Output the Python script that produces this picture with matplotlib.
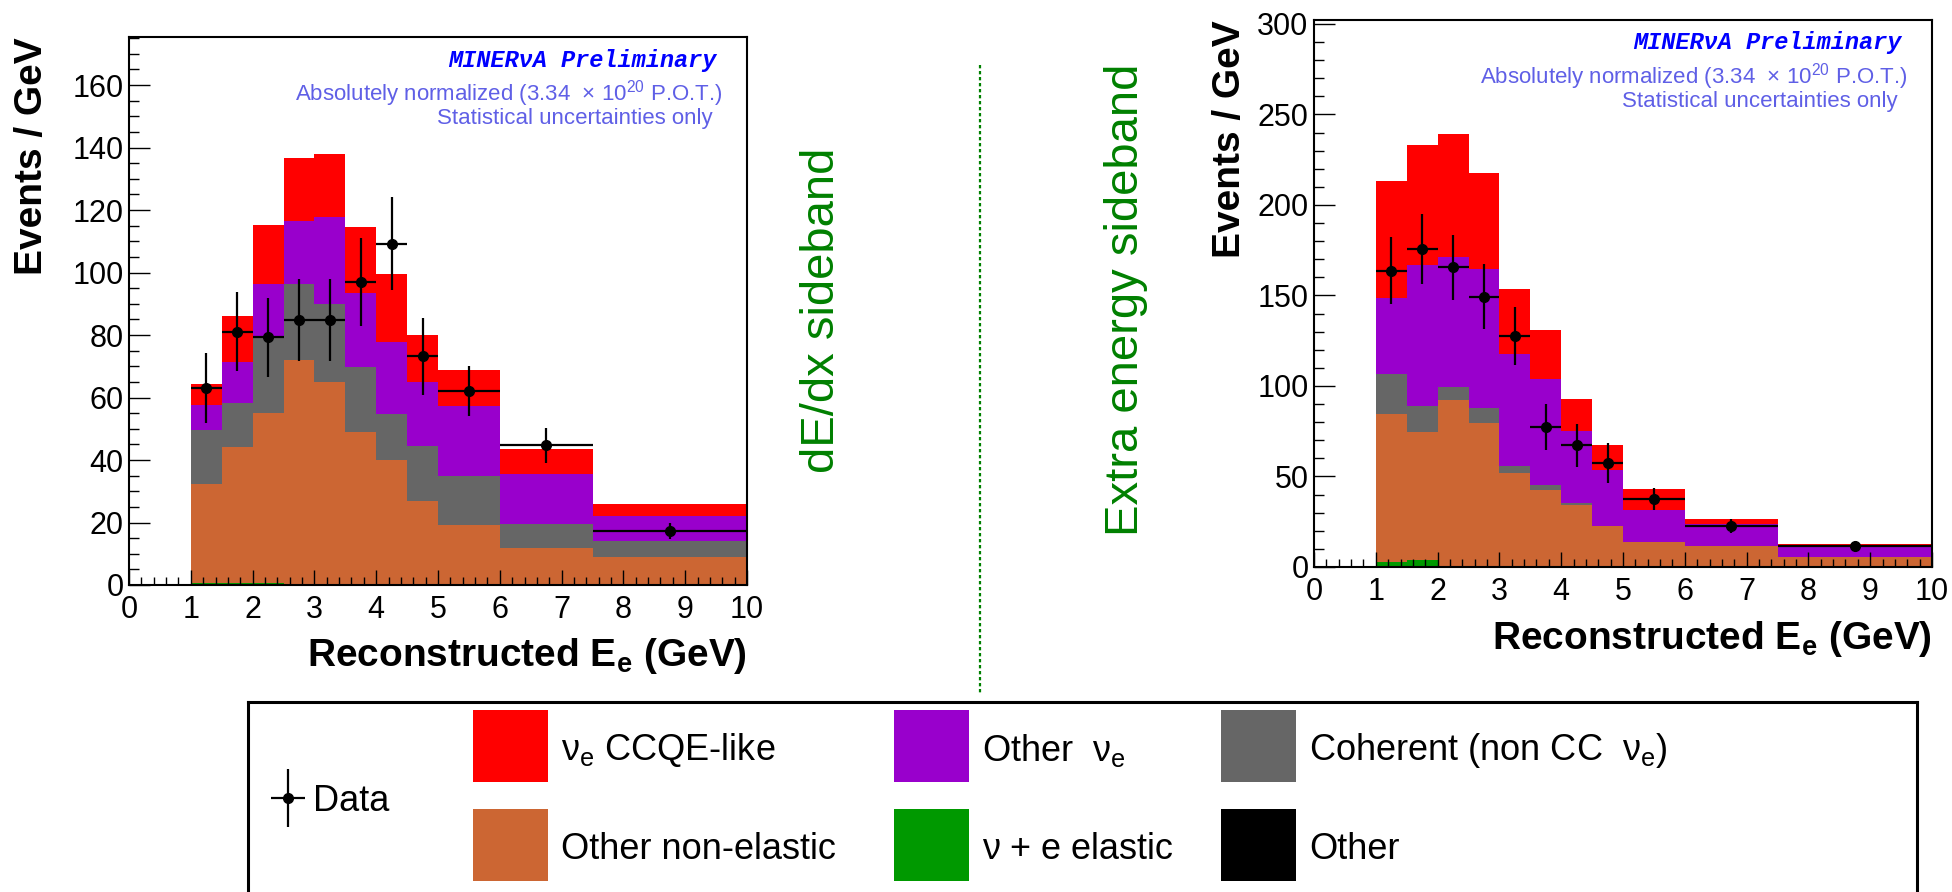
import matplotlib
matplotlib.use("Agg")
import matplotlib.pyplot as plt
import numpy as np
from matplotlib.lines import Line2D
from matplotlib.patches import Rectangle
from matplotlib.ticker import MultipleLocator

plt.rcParams["font.family"] = ["Liberation Sans", "DejaVu Sans"]

W, H = 1952, 892

bin_edges = [1, 1.5, 2, 2.5, 3, 3.5, 4, 4.5, 5, 6, 7.5, 10]

# dE/dx sideband, events / GeV (bottom of stack first)
dedx_other = [0, 0, 0, 0, 0, 0, 0, 0, 0, 0, 0]
dedx_nue_elastic = [0.5, 0.5, 0.5, 0, 0, 0, 0, 0, 0, 0, 0]
dedx_non_elastic = [31.9, 43.6, 54.4, 72.0, 65.1, 48.9, 40.0, 27.0, 19.1, 11.9, 8.9]
dedx_coherent = [17.1, 14.0, 24.4, 24.5, 24.7, 20.9, 14.6, 17.5, 15.9, 7.6, 5.3]
dedx_other_nue = [8.0, 13.4, 17.2, 20.0, 28.0, 23.8, 23.2, 20.6, 22.3, 16.1, 7.8]
dedx_ccqe = [6.7, 14.6, 18.8, 20.3, 20.1, 20.9, 21.6, 15.0, 11.6, 7.8, 3.9]
dedx_data = [63.0, 81.1, 79.3, 84.9, 84.9, 97.0, 109.3, 73.2, 62.1, 44.8, 17.3]
dedx_err = [11.2, 12.7, 12.6, 13.1, 13.1, 14.0, 14.8, 12.3, 8.1, 5.6, 2.6]

# extra energy sideband
extra_other = [0, 0, 0, 0, 0, 0, 0, 0, 0, 0, 0]
extra_nue_elastic = [2.6, 4.1, 0.8, 0.3, 0, 0.5, 0, 0, 0, 0, 0]
extra_non_elastic = [82.1, 70.6, 91.3, 79.0, 51.7, 41.9, 34.5, 22.5, 14.0, 11.8, 5.7]
extra_coherent = [22.1, 14.4, 7.5, 8.3, 4.2, 3.0, 0.9, 0, 0, 0, 0]
extra_other_nue = [41.7, 77.5, 71.6, 76.8, 61.6, 58.3, 39.9, 31.0, 17.7, 12.2, 5.9]
extra_ccqe = [65.0, 66.6, 68.1, 53.5, 36.0, 27.1, 17.5, 14.0, 11.5, 2.6, 1.1]
extra_data = [163.8, 175.5, 165.5, 149.3, 127.5, 77.3, 67.2, 57.4, 37.6, 22.7, 11.6]
extra_err = [18.3, 19.3, 18.1, 17.9, 16.0, 12.7, 11.8, 11.0, 6.1, 3.9, 2.2]

stack_colors = ["#000000", "#009900", "#cc6633", "#666666", "#9900cc", "#ff0000"]

legend_labels = [
    "ν$_\\mathregular{e}$ CCQE-like",
    "Other  ν$_\\mathregular{e}$",
    "Coherent (non CC  ν$_\\mathregular{e}$)",
    "Other non-elastic",
    "ν + e elastic",
    "Other",
]
legend_colors = ["#ff0000", "#9900cc", "#666666", "#cc6633", "#009900", "#000000"]

TEXT_BLUE = "#5f5fe6"
GREEN = "#008000"


def draw_panel(ax, components, data, err, ymax, ymajor, yminor):
    edges = np.asarray(bin_edges, dtype=float)
    base = np.zeros(len(edges) - 1)
    for vals, color in zip(components, stack_colors):
        top = base + np.asarray(vals, dtype=float)
        ax.stairs(top, edges, baseline=base, fill=True, color=color, linewidth=0)
        base = top

    centers = 0.5 * (edges[1:] + edges[:-1])
    half = 0.5 * (edges[1:] - edges[:-1])
    ax.errorbar(centers, data, xerr=half, yerr=err, fmt="o", color="black",
                markersize=7, elinewidth=1.6, capsize=0, zorder=5)

    ax.set_xlim(0, 10)
    ax.set_ylim(0, ymax)
    ax.xaxis.set_major_locator(MultipleLocator(1))
    ax.xaxis.set_minor_locator(MultipleLocator(0.2))
    ax.yaxis.set_major_locator(MultipleLocator(ymajor))
    ax.yaxis.set_minor_locator(MultipleLocator(yminor))
    ax.tick_params(which="both", direction="in", top=False, right=False, width=1)
    ax.tick_params(axis="x", which="major", length=11, labelsize=22, pad=7)
    ax.tick_params(axis="x", which="minor", length=5.5)
    ax.tick_params(axis="y", which="major", length=15, labelsize=22, pad=4)
    ax.tick_params(axis="y", which="minor", length=7.5)
    for sp in ax.spines.values():
        sp.set_linewidth(1.5)

    ax.set_xlabel("Reconstructed E$_\\mathregular{e}$ (GeV)", fontsize=28,
                  fontweight="bold", loc="right")
    ax.set_ylabel("Events / GeV", fontsize=28, fontweight="bold", loc="top")

    ax.text(0.95, 0.958, "MINERνA Preliminary", transform=ax.transAxes,
            ha="right", va="center", color="#0000ff", fontsize=17,
            family=["Liberation Mono", "DejaVu Sans Mono"],
            weight="bold", style="italic")
    ax.text(0.96, 0.896,
            "Absolutely normalized (3.34  × 10$^\\mathregular{20}$ P.O.T.)",
            transform=ax.transAxes, ha="right", va="center",
            color=TEXT_BLUE, fontsize=16)
    ax.text(0.945, 0.851, "Statistical uncertainties only",
            transform=ax.transAxes, ha="right", va="center",
            color=TEXT_BLUE, fontsize=16)


fig = plt.figure(figsize=(W / 100, H / 100), dpi=100)

ax_l = fig.add_axes([129 / W, 1 - 585 / H, 618 / W, 548 / H])
ax_r = fig.add_axes([1314 / W, 1 - 567 / H, 618 / W, 547 / H])

draw_panel(ax_l,
           [dedx_other, dedx_nue_elastic, dedx_non_elastic, dedx_coherent,
            dedx_other_nue, dedx_ccqe],
           dedx_data, dedx_err, 175.4, 20, 5)
draw_panel(ax_r,
           [extra_other, extra_nue_elastic, extra_non_elastic, extra_coherent,
            extra_other_nue, extra_ccqe],
           extra_data, extra_err, 302.2, 50, 10)

ax_l.yaxis.set_label_coords(-0.128, 1.0)
ax_l.xaxis.set_label_coords(1.0, -0.093)
ax_r.yaxis.set_label_coords(-0.107, 1.0)
ax_r.xaxis.set_label_coords(1.0, -0.095)

# sideband annotations and separator
fig.text(822 / W, 1 - 310 / H, "dE/dx sideband", rotation=90, ha="center",
         va="center", fontsize=34, color=GREEN)
fig.text(1126 / W, 1 - 300 / H, "Extra energy sideband", rotation=90,
         ha="center", va="center", fontsize=34, color=GREEN)
fig.add_artist(Line2D([980 / W, 980 / W], [1 - 65 / H, 1 - 694 / H],
                      transform=fig.transFigure, color=GREEN, linewidth=1.6,
                      linestyle=(0, (1.5, 1.2))))

# legend box drawn by hand (Data entry spans both rows)
lax = fig.add_axes([248 / W, 0, (1917 - 248) / W, (H - 702) / H])
lax.set_xlim(248, 1917)
lax.set_ylim(H, 702)
lax.set_xticks([])
lax.set_yticks([])
lax.spines["bottom"].set_visible(False)
for side in ("left", "top", "right"):
    lax.spines[side].set_linewidth(2.2)

lax.errorbar([288], [798], xerr=17, yerr=29, fmt="o", color="black",
             markersize=7, elinewidth=1.6, capsize=0)
lax.text(313, 801, "Data", ha="left", va="center", fontsize=26)

col_x = [473, 894, 1221]
row_y = [710, 809]
box_w, box_h = 75, 72
for i, (label, color) in enumerate(zip(legend_labels, legend_colors)):
    r, c = divmod(i, 3)
    lax.add_patch(Rectangle((col_x[c], row_y[r]), box_w, box_h,
                            facecolor=color, edgecolor="none"))
    lax.text(col_x[c] + 88, row_y[r] + box_h / 2 + 4, label, ha="left",
             va="center", fontsize=26)

fig.savefig("out.png", dpi=100)
plt.close(fig)
